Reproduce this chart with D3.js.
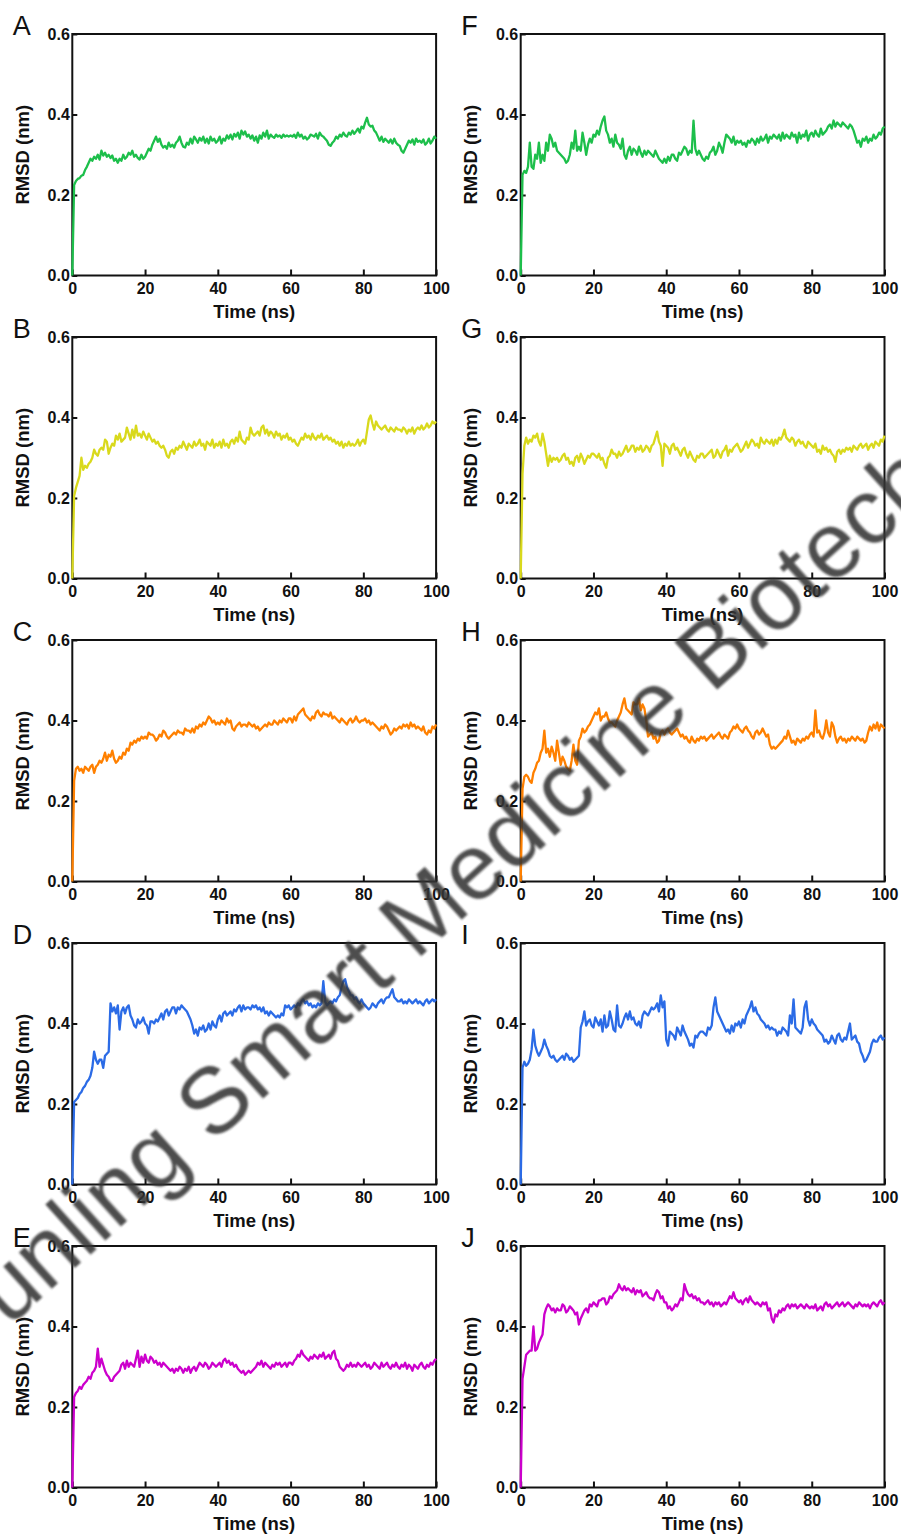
<!DOCTYPE html>
<html>
<head>
<meta charset="utf-8">
<script src="https://cdn.jsdelivr.net/npm/d3@7"></script>
<style>
  body { margin: 0; background: #fff; }
  svg { display: block; font-family: Arial, "Liberation Sans", sans-serif; }
</style>
</head>
<body>
<svg id="chart" width="901" height="1537"></svg>
<script>
// ---------------- data ----------------
const panelLetters = ["A", "B", "C", "D", "E", "F", "G", "H", "I", "J"];
const xTicks = [0, 20, 40, 60, 80, 100];
const yTicks = [0.0, 0.2, 0.4, 0.6];
const xTitle = "Time (ns)";
const yTitle = "RMSD (nm)";
const timeRangeNs = [0, 100];   // each series is sampled evenly over this range (0.5 ns)
const rowColors = ["#1dbf4b", "#d9d91c", "#ff8000", "#2b6be6", "#cc00cc"];
const watermarkText = "Junling Smart Medicine Biotech";

const rmsdA = [
  0,.225,.235,.24,.242, .248,.25,.262,.27,.28, .29,.285,.295,.29,.3, .288,.31,.298,.305,.295,
  .3,.292,.298,.285,.29, .28,.29,.285,.3,.29, .295,.305,.3,.31,.295, .3,.292,.288,.3,.29,
  .295,.305,.315,.31,.325, .335,.345,.332,.34,.325, .318,.322,.315,.33,.32, .325,.318,.33,.335,.345,
  .33,.32,.318,.33,.325, .34,.328,.345,.338,.33, .342,.335,.345,.33,.34, .328,.345,.335,.34,.33,
  .335,.345,.328,.34,.335, .348,.34,.35,.338,.352, .345,.355,.34,.36,.35, .358,.345,.35,.34,.348,
  .335,.345,.33,.348,.34, .355,.345,.36,.34,.35, .345,.342,.35,.345,.348, .342,.35,.345,.348,.345,
  .348,.345,.35,.342,.355, .345,.35,.34,.345,.338, .342,.35,.348,.345,.352, .34,.355,.348,.345,.34,
  .335,.325,.322,.33,.335, .345,.34,.35,.345,.355, .348,.345,.355,.35,.36, .352,.358,.365,.355,.37,
  .365,.38,.392,.375,.37, .372,.36,.355,.345,.335, .345,.332,.34,.335,.33, .338,.328,.34,.33,.325,
  .322,.31,.305,.315,.325, .335,.33,.338,.325,.34, .332,.335,.33,.338,.325, .33,.34,.328,.335,.345, .34
];
const rmsdB = [
  0,.205,.225,.24,.255, .3,.27,.28,.275,.285, .29,.3,.32,.31,.305, .32,.325,.32,.345,.34,
  .31,.325,.335,.33,.355, .345,.36,.34,.345,.35, .375,.36,.345,.37,.35, .38,.355,.36,.35,.365,
  .355,.345,.36,.35,.34, .345,.335,.34,.33,.325, .33,.32,.305,.3,.315, .32,.31,.325,.32,.33,
  .325,.34,.33,.32,.335, .33,.325,.34,.33,.335, .345,.33,.335,.32,.34, .335,.33,.345,.325,.335,
  .33,.34,.325,.345,.33, .335,.325,.34,.345,.335, .35,.34,.365,.345,.34, .335,.35,.345,.375,.36,
  .355,.36,.365,.355,.375, .38,.36,.37,.355,.365, .36,.35,.365,.355,.36, .345,.355,.35,.36,.345,
  .35,.34,.345,.335,.33, .34,.35,.345,.36,.35, .355,.345,.36,.35,.345, .355,.35,.36,.345,.35,
  .355,.345,.35,.34,.345, .335,.34,.33,.34,.325, .335,.33,.34,.33,.335, .33,.335,.345,.33,.34,
  .345,.335,.365,.395,.405, .385,.37,.39,.38,.375, .37,.375,.38,.37,.365, .375,.37,.365,.375,.37,
  .37,.365,.375,.37,.36, .37,.365,.375,.36,.37, .375,.37,.38,.37,.375, .385,.375,.38,.39,.385, .39
];
const rmsdC = [
  0,.25,.28,.285,.275, .28,.27,.285,.28,.275, .285,.29,.27,.285,.29, .3,.295,.305,.32,.3,
  .315,.31,.325,.305,.295, .3,.31,.305,.32,.315, .33,.325,.345,.34,.35, .345,.355,.35,.36,.355,
  .36,.355,.37,.365,.365, .36,.35,.355,.365,.36, .375,.37,.36,.355,.36, .365,.37,.365,.375,.37,
  .37,.365,.38,.375,.375, .37,.38,.37,.385,.38, .39,.385,.395,.39,.4, .41,.405,.395,.4,.39,
  .395,.39,.4,.395,.39, .405,.395,.4,.38,.375, .385,.39,.395,.385,.39, .39,.385,.395,.39,.385,
  .39,.38,.385,.375,.38, .385,.39,.385,.395,.39, .39,.4,.395,.39,.4, .395,.405,.4,.395,.405,
  .405,.395,.41,.4,.415, .42,.425,.43,.415,.41, .405,.4,.41,.405,.42, .425,.415,.41,.42,.415,
  .415,.41,.42,.405,.41, .405,.4,.395,.405,.4, .395,.39,.4,.405,.395, .4,.41,.4,.395,.4,
  .4,.405,.395,.4,.39, .395,.39,.385,.38,.375, .385,.38,.39,.385,.375, .365,.37,.38,.375,.38,
  .385,.38,.39,.385,.39, .38,.395,.385,.39,.38, .385,.38,.375,.385,.37, .365,.375,.37,.385,.38, .39
];
const rmsdD = [
  0,.205,.21,.215,.225, .23,.24,.245,.255,.26, .27,.29,.33,.31,.30, .31,.31,.29,.32,.325,
  .33,.45,.43,.44,.425, .445,.385,.43,.44,.425, .44,.445,.42,.41,.395, .39,.41,.4,.405,.415,
  .40,.395,.375,.405,.405, .4,.41,.405,.415,.425, .41,.43,.435,.42,.43, .44,.44,.425,.44,.435,
  .445,.44,.435,.43,.42, .41,.395,.375,.385,.37, .39,.385,.395,.38,.385, .4,.385,.405,.395,.39,
  .41,.42,.405,.425,.43, .42,.425,.43,.42,.435, .43,.44,.445,.43,.445, .435,.44,.44,.435,.445,
  .44,.445,.435,.44,.43, .44,.425,.43,.42,.43, .425,.42,.415,.42,.415, .425,.42,.445,.44,.445,
  .435,.44,.445,.44,.45, .445,.455,.46,.45,.455, .445,.45,.44,.445,.44, .45,.445,.45,.505,.455,
  .445,.45,.455,.45,.46, .455,.465,.47,.49,.505, .51,.49,.48,.47,.47, .46,.465,.455,.45,.46,
  .45,.445,.44,.435,.44, .45,.445,.44,.45,.455, .46,.45,.46,.465,.465, .475,.485,.465,.46,.455,
  .455,.46,.45,.455,.45, .46,.455,.45,.455,.46, .45,.455,.45,.445,.455, .46,.45,.455,.46,.455, .46
];
const rmsdE = [
  0,.225,.235,.24,.25, .245,.255,.26,.265,.275, .27,.285,.29,.3,.345, .3,.32,.305,.29,.28,
  .275,.265,.265,.275,.28, .285,.29,.305,.31,.295, .315,.3,.31,.305,.3, .32,.34,.3,.325,.31,
  .33,.315,.31,.325,.32, .31,.315,.305,.31,.3, .31,.305,.3,.295,.29, .295,.285,.295,.29,.3,
  .295,.285,.295,.29,.3, .285,.295,.3,.29,.3, .31,.305,.3,.31,.305, .295,.3,.31,.305,.3,
  .305,.31,.3,.315,.32, .31,.315,.305,.31,.3, .305,.295,.29,.285,.29, .28,.285,.29,.285,.29,
  .295,.3,.31,.305,.315, .3,.31,.305,.3,.295, .305,.3,.31,.305,.31, .3,.305,.31,.3,.31,
  .31,.305,.315,.32,.33, .325,.34,.33,.325,.32, .315,.325,.32,.33,.325, .32,.33,.325,.335,.32,
  .325,.33,.32,.335,.34, .32,.315,.3,.295,.29, .295,.305,.3,.31,.3, .305,.3,.31,.305,.3,
  .305,.31,.3,.305,.295, .3,.31,.305,.3,.295, .31,.3,.305,.31,.3, .295,.305,.3,.31,.3,
  .295,.305,.3,.31,.295, .305,.3,.29,.305,.3, .295,.305,.31,.3,.295, .305,.3,.31,.305,.315, .32
];
const rmsdF = [
  0,.25,.26,.255,.27, .33,.27,.265,.3,.29, .33,.28,.3,.285,.33, .31,.35,.34,.32,.33,
  .31,.305,.3,.295,.29, .28,.285,.3,.33,.315, .36,.31,.32,.31,.355, .33,.3,.325,.34,.33,
  .35,.345,.36,.35,.37, .385,.395,.36,.35,.33, .34,.32,.35,.33,.325, .315,.34,.3,.29,.31,
  .32,.3,.315,.31,.3, .32,.305,.295,.31,.3, .31,.305,.3,.295,.31, .3,.29,.285,.28,.29,
  .28,.295,.285,.3,.3, .29,.285,.305,.3,.31, .32,.315,.3,.31,.305, .385,.315,.3,.31,.3,
  .29,.285,.295,.29,.305, .31,.32,.3,.31,.33, .32,.305,.33,.35,.345, .34,.33,.345,.325,.335,
  .33,.335,.325,.33,.32, .335,.33,.34,.335,.325, .34,.33,.345,.335,.34, .35,.33,.345,.34,.35,
  .345,.34,.35,.335,.355, .34,.35,.345,.34,.355, .345,.35,.33,.355,.34, .35,.345,.36,.335,.35,
  .355,.345,.36,.35,.345, .365,.35,.355,.36,.37, .375,.365,.385,.37,.38, .375,.37,.38,.375,.37,
  .365,.375,.37,.36,.345, .33,.335,.32,.34,.335, .345,.33,.34,.335,.35, .34,.345,.355,.35,.365, .37
];
const rmsdG = [
  0,.26,.33,.35,.335, .345,.34,.355,.35,.36, .34,.33,.36,.34,.31, .28,.305,.29,.3,.295,
  .3,.29,.295,.305,.31, .295,.3,.285,.29,.28, .3,.305,.29,.31,.3, .285,.295,.305,.3,.31,
  .31,.305,.3,.31,.295, .3,.285,.275,.3,.305, .32,.31,.31,.3,.315, .305,.31,.32,.33,.315,
  .32,.33,.33,.315,.325, .32,.33,.315,.32,.33, .325,.315,.33,.335,.35, .365,.34,.33,.28,.335,
  .33,.325,.31,.33,.335, .32,.325,.315,.305,.32, .325,.31,.3,.315,.305, .295,.29,.305,.3,.31,
  .31,.3,.305,.31,.315, .32,.3,.305,.32,.31, .3,.315,.32,.33,.305, .32,.315,.325,.33,.335,
  .325,.315,.32,.33,.34, .325,.335,.345,.34,.33, .335,.325,.35,.34,.335, .345,.34,.335,.345,.33,
  .345,.335,.35,.345,.355, .37,.35,.345,.34,.35, .345,.33,.34,.345,.335, .34,.33,.325,.34,.335,
  .33,.325,.335,.315,.32, .31,.33,.32,.325,.315, .32,.31,.305,.29,.315, .32,.31,.32,.315,.325,
  .32,.325,.315,.33,.325, .32,.33,.335,.325,.33, .335,.32,.33,.335,.325, .34,.335,.33,.345,.34, .355
];
const rmsdH = [
  0,.23,.26,.265,.26, .25,.245,.27,.28,.295, .3,.32,.33,.375,.32, .33,.31,.335,.32,.3,
  .35,.32,.29,.31,.3, .285,.28,.275,.3,.34, .3,.29,.35,.36,.38, .37,.375,.385,.39,.4,
  .41,.42,.415,.43,.4, .41,.41,.42,.405,.395, .395,.39,.385,.4,.41, .42,.44,.455,.43,.425,
  .42,.415,.445,.44,.44, .455,.425,.44,.43,.40, .36,.365,.37,.355,.36, .345,.35,.37,.375,.365,
  .375,.38,.37,.365,.37, .375,.38,.37,.36,.365, .355,.36,.35,.345,.36, .35,.345,.355,.35,.36,
  .355,.36,.35,.355,.36, .365,.355,.36,.365,.37, .36,.355,.365,.36,.355, .37,.375,.385,.38,.39,
  .38,.375,.37,.38,.385, .375,.37,.36,.355,.37, .375,.365,.37,.38,.37, .36,.365,.34,.33,.335,
  .33,.335,.34,.345,.35, .36,.355,.375,.36,.345, .35,.34,.355,.35,.345, .355,.35,.36,.355,.365,
  .37,.36,.425,.37,.375, .36,.355,.37,.40,.37, .36,.395,.385,.36,.345, .355,.36,.35,.355,.345,
  .355,.35,.36,.355,.35, .36,.355,.35,.355,.345, .35,.37,.385,.375,.39, .38,.395,.375,.39,.385, .38
];
const rmsdI = [
  0,.29,.305,.295,.3, .31,.335,.385,.345,.33, .32,.33,.34,.36,.345, .335,.32,.315,.32,.31,
  .305,.31,.315,.32,.31, .325,.32,.31,.315,.305, .31,.315,.32,.39,.405, .43,.395,.405,.41,.395,
  .39,.415,.405,.395,.41, .38,.42,.39,.395,.43, .41,.385,.38,.445,.395, .39,.4,.415,.425,.41,
  .43,.41,.415,.4,.395, .405,.39,.42,.43,.425, .42,.43,.44,.435,.44, .45,.43,.47,.44,.455,
  .36,.345,.38,.375,.37, .36,.39,.38,.37,.395, .38,.37,.36,.345,.35, .34,.37,.365,.375,.38,
  .38,.375,.37,.39,.385, .395,.44,.465,.43,.42, .41,.4,.39,.38,.385, .375,.395,.38,.4,.395,
  .405,.39,.41,.4,.42, .43,.44,.455,.43,.44, .425,.42,.41,.405,.4, .39,.395,.385,.39,.385,
  .385,.37,.38,.375,.39, .385,.38,.37,.42,.4, .46,.39,.385,.38,.375, .39,.44,.455,.41,.395,
  .41,.4,.395,.385,.38, .375,.37,.355,.36,.35, .355,.37,.36,.35,.37, .375,.36,.355,.365,.36,
  .38,.4,.36,.365,.37, .355,.35,.33,.32,.305, .31,.32,.33,.35,.36, .355,.355,.365,.37,.36, .365
];
const rmsdJ = [
  0,.27,.3,.33,.335, .34,.34,.4,.34,.345, .36,.37,.38,.43,.445, .455,.45,.44,.445,.435,
  .445,.44,.44,.455,.45, .435,.44,.45,.445,.44, .43,.435,.405,.42,.43, .44,.445,.435,.455,.45,
  .46,.455,.45,.465,.465, .47,.47,.455,.46,.475, .47,.48,.485,.49,.505, .495,.49,.5,.49,.495,
  .49,.485,.495,.48,.49, .485,.49,.475,.48,.485, .475,.47,.47,.465,.48, .49,.485,.47,.475,.46,
  .46,.445,.45,.44,.445, .455,.45,.46,.47,.465, .505,.49,.48,.475,.48, .47,.475,.465,.47,.46,
  .46,.455,.46,.465,.455, .46,.45,.46,.455,.46, .45,.455,.46,.455,.465, .475,.47,.485,.47,.465,
  .46,.465,.455,.465,.47, .46,.475,.465,.46,.455, .46,.455,.45,.46,.455, .46,.44,.445,.42,.41,
  .43,.425,.44,.435,.445, .44,.45,.455,.445,.455, .45,.455,.445,.45,.455, .45,.445,.455,.45,.445,
  .45,.445,.455,.44,.445, .45,.44,.455,.46,.45, .455,.445,.45,.455,.46, .45,.455,.46,.45,.455,
  .46,.455,.45,.445,.455, .45,.46,.455,.45,.455, .45,.455,.445,.455,.46, .455,.45,.46,.465,.455, .46
];

const seriesList = [rmsdA, rmsdB, rmsdC, rmsdD, rmsdE, rmsdF, rmsdG, rmsdH, rmsdI, rmsdJ];

// ---------------- layout ----------------
const colLeft = [72.3, 520.7];
const plotW = 363.8;
const plotH = 241.5;
const rowTop0 = 34;
const rowStep = 303;
const fontFam = 'Arial, "Liberation Sans", sans-serif';

const svg = d3.select("#chart");
const defs = svg.append("defs");
defs.append("filter").attr("id", "wmBlur")
  .attr("x", "-5%").attr("y", "-20%").attr("width", "110%").attr("height", "140%")
  .append("feGaussianBlur").attr("stdDeviation", 1.1);

panelLetters.forEach((letter, idx) => {
  const col = idx < 5 ? 0 : 1;
  const row = idx % 5;
  const data = seriesList[idx];
  const color = rowColors[row];
  const gx = colLeft[col];
  const gy = rowTop0 + row * rowStep;
  const g = svg.append("g").attr("transform", `translate(${gx},${gy})`);

  const x = d3.scaleLinear().domain(timeRangeNs).range([0, plotW]);
  const y = d3.scaleLinear().domain([0, 0.6]).range([plotH, 0]);

  // axes (ticks inward)
  const xa = g.append("g").attr("transform", `translate(0,${plotH})`)
    .call(d3.axisBottom(x).tickValues(xTicks).tickSize(-6).tickPadding(7.6).tickFormat(d3.format("d")));
  const ya = g.append("g")
    .call(d3.axisLeft(y).tickValues(yTicks).tickSize(-5).tickPadding(2.5).tickFormat(d3.format(".1f")));
  [xa, ya].forEach(a => {
    a.select(".domain").remove();
    a.selectAll(".tick line").attr("stroke", "#111").attr("stroke-width", 2);
    a.selectAll(".tick text")
      .attr("fill", "#111")
      .style("font-family", fontFam)
      .style("font-size", "16px")
      .style("font-weight", "bold");
  });

  // frame
  g.append("rect")
    .attr("x", 0).attr("y", 0).attr("width", plotW).attr("height", plotH)
    .attr("fill", "none").attr("stroke", "#111").attr("stroke-width", 2);

  // series
  const n = data.length;
  const line = d3.line()
    .x((d, i) => x(timeRangeNs[0] + i * (timeRangeNs[1] - timeRangeNs[0]) / (n - 1)))
    .y(d => y(d));
  g.append("path").datum(data)
    .attr("d", line)
    .attr("fill", "none")
    .attr("stroke", color)
    .attr("stroke-width", 2.3)
    .attr("stroke-linejoin", "round");

  // titles
  g.append("text")
    .attr("x", plotW / 2).attr("y", plotH + 42.5)
    .attr("text-anchor", "middle")
    .style("font-family", fontFam).style("font-size", "18.5px").style("font-weight", "bold")
    .attr("fill", "#111")
    .text(xTitle);
  g.append("text")
    .attr("transform", `translate(-43.5,${plotH / 2}) rotate(-90)`)
    .attr("text-anchor", "middle")
    .style("font-family", fontFam).style("font-size", "18.5px").style("font-weight", "bold")
    .attr("fill", "#111")
    .text(yTitle);

  // panel letter
  g.append("text")
    .attr("x", -59.5).attr("y", 1)
    .style("font-family", fontFam).style("font-size", "27px")
    .attr("fill", "#111")
    .text(letter);
});

// watermark
svg.append("text")
  .attr("transform", "translate(458,923) rotate(-42)")
  .attr("text-anchor", "middle")
  .style("font-family", fontFam)
  .style("font-size", "93px")
  .attr("fill", "#353535")
  .attr("opacity", 0.88)
  .attr("filter", "url(#wmBlur)")
  .text(watermarkText);
</script>
</body>
</html>
